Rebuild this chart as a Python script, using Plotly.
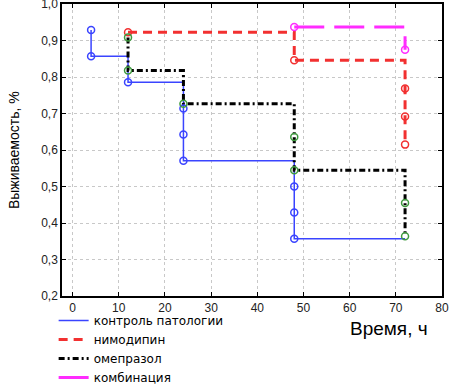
import plotly.graph_objects as go

# ---- data ----
x_ticks = [0, 10, 20, 30, 40, 50, 60, 70, 80]
y_ticks = [0.2, 0.3, 0.4, 0.5, 0.6, 0.7, 0.8, 0.9, 1.0]

ctrl_name = "контроль патологии"
ctrl_t = [4, 4, 12, 24, 24, 24, 48, 48, 48]
ctrl_s = [0.929, 0.857, 0.786, 0.714, 0.643, 0.571, 0.500, 0.429, 0.357]
ctrl_end = 72

nimo_name = "нимодипин"
nimo_t = [12, 48, 72, 72, 72]
nimo_s = [0.923, 0.846, 0.769, 0.692, 0.615]
nimo_end = 72

ome_name = "омепразол"
ome_t = [12, 12, 24, 48, 48, 72, 72]
ome_s = [0.909, 0.818, 0.727, 0.636, 0.545, 0.455, 0.364]
ome_end = 72

comb_name = "комбинация"
comb_t = [48, 72]
comb_s = [0.9375, 0.875]
comb_end = 72


def step_path(t, s, end):
    xs, ys = [t[0]], [s[0]]
    for i in range(1, len(t)):
        if t[i] != t[i - 1]:
            xs.append(t[i]); ys.append(s[i - 1])
        xs.append(t[i]); ys.append(s[i])
    if end > t[-1]:
        xs.append(end); ys.append(s[-1])
    return xs, ys


series = [
    (ctrl_name, ctrl_t, ctrl_s, ctrl_end, "#3a44ff", 1.5, "solid", "#3a44ff"),
    (nimo_name, nimo_t, nimo_s, nimo_end, "#f23030", 3, "9px,6px", "#f23030"),
    (ome_name, ome_t, ome_s, ome_end, "#000000", 3, "6px,3px,2px,3px", "#3f9a3f"),
    (comb_name, comb_t, comb_s, comb_end, "#ff2cff", 3, "30px,10px", "#ff2cff"),
]

fig = go.Figure()
for name, t, s, end, col, w, dash, mcol in series:
    xs, ys = step_path(t, s, end)
    fig.add_trace(go.Scatter(x=xs, y=ys, mode="lines", name=name,
                             line=dict(color=col, width=w, dash=dash)))
for name, t, s, end, col, w, dash, mcol in series:
    fig.add_trace(go.Scatter(x=t, y=s, mode="markers", showlegend=False,
                             marker=dict(symbol="circle-open", size=7,
                                         color=mcol, line=dict(width=1.5, color=mcol))))

axis_common = dict(showline=True, linecolor="#000000", linewidth=1.5, mirror="ticks",
                   ticks="inside", ticklen=4, tickcolor="#000000",
                   showgrid=True, gridcolor="#c8c8c8", griddash="dot", gridwidth=1,
                   zeroline=False, automargin=False, ticklabeloverflow="allow",
                   tickfont=dict(family="Liberation Sans", size=12, color="#222222"))

fig.update_xaxes(range=[-2.3, 80], tickvals=x_ticks, **axis_common)
fig.update_yaxes(range=[0.2, 1.0005], tickvals=y_ticks, tickformat=".1f", **axis_common)

fig.add_annotation(text="Выживаемость, %", textangle=-90, xref="paper", yref="paper",
                   x=-0.126, y=0.5, xanchor="center", yanchor="middle", showarrow=False,
                   font=dict(family="Liberation Sans", size=14, color="#000000"))
fig.add_annotation(text="Время, ч", xref="paper", yref="paper",
                   x=0.861, y=-0.113, xanchor="center", yanchor="middle", showarrow=False,
                   font=dict(family="Liberation Sans", size=19, color="#000000"))

fig.update_layout(
    width=466, height=387,
    margin=dict(l=62, r=24, t=4, b=91, autoexpand=False),
    paper_bgcolor="white", plot_bgcolor="white",
    separators=", ",
    font=dict(family="DejaVu Sans", size=12, color="#000000"),
    legend=dict(x=-0.022, y=-0.034, xanchor="left", yanchor="top",
                bgcolor="rgba(0,0,0,0)", font=dict(size=12), tracegroupgap=0),
    showlegend=True,
)

fig.write_html("out.html", config={"displayModeBar": False},
               post_script="document.body.style.margin='0';document.body.style.overflow='hidden';")
